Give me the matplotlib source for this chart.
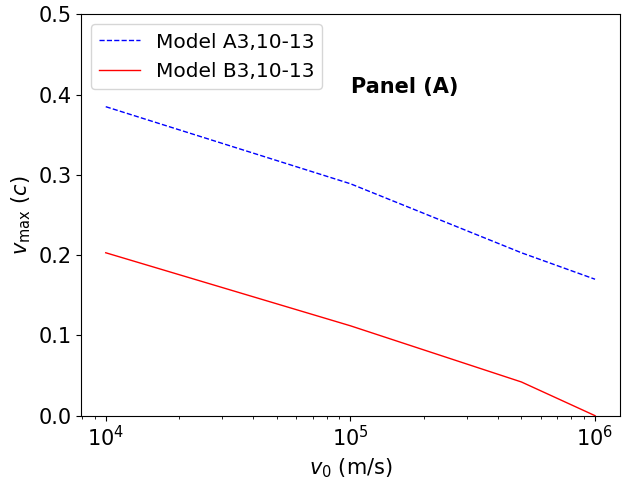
import matplotlib
matplotlib.use("Agg")
import matplotlib.pyplot as plt

# data
v0 = [1e4, 1e5, 5e5, 1e6]
vmax_a3 = [0.385, 0.289, 0.203, 0.170]
vmax_b3 = [0.203, 0.112, 0.042, 0.0]

plt.rcParams.update({"font.size": 15})

fig, ax = plt.subplots(figsize=(6.4, 4.8), dpi=100)
ax.plot(v0, vmax_a3, "b--", lw=1, label="Model A3,10-13")
ax.plot(v0, vmax_b3, "r-", lw=1, label="Model B3,10-13")
ax.set_xscale("log")
ax.set_ylim(0, 0.5)
ax.set_xlabel(r"$v_0$ (m/s)")
ax.set_ylabel(r"$v_{\rm max}$ ($c$)")
ax.legend(loc="upper left", fontsize=14.5)
ax.text(0.6, 0.82, "Panel (A)", transform=ax.transAxes,
        ha="center", va="center", fontweight="bold", fontsize=15)
fig.subplots_adjust(left=0.127, right=0.968, top=0.970, bottom=0.134)
fig.savefig("out.png")
